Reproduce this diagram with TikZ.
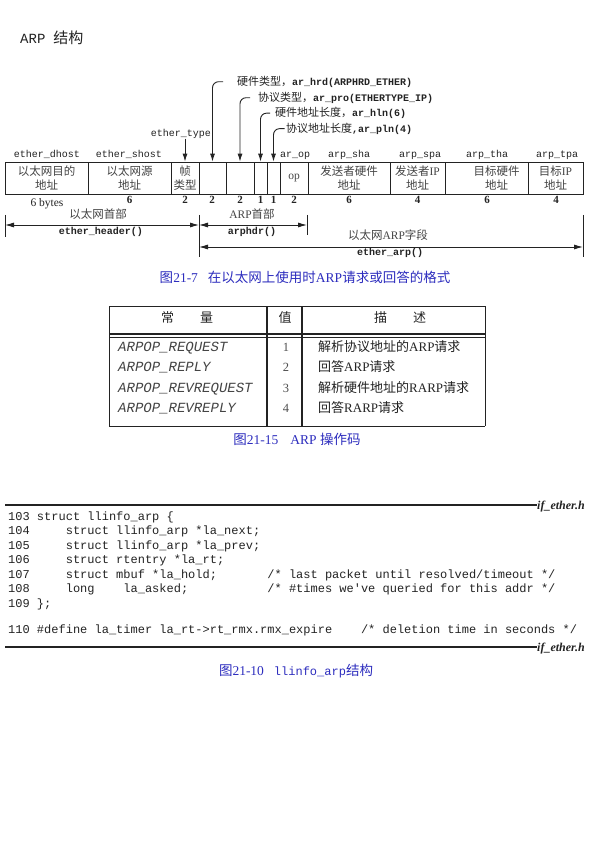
\documentclass[tikz,border=0pt]{standalone}
\usepackage{fontspec}
\setmainfont{Liberation Serif}
\setmonofont{Liberation Mono}
\newfontfamily\cjk{Noto Sans CJK SC}
\usetikzlibrary{arrows.meta}
\definecolor{capblue}{RGB}{45,45,190}
\definecolor{ink}{RGB}{35,35,35}
\newcommand\zh[1]{{\cjk\mdseries\upshape #1}}
\newcommand\mono[1]{{\ttfamily\fontsize{10}{12}\selectfont #1}}
\begin{document}
\begin{tikzpicture}[x=1pt,y=-1pt,
  every node/.style={inner sep=0pt, text=ink},
  cell/.style={draw=ink, line width=0.8pt, minimum height=32pt, inner sep=0pt, align=center,
    font=\cjk\fontsize{11.5}{14}\selectfont, text=ink!85},
  fld/.style={font=\ttfamily\fontsize{10}{12}\selectfont, anchor=mid},
  num/.style={font=\bfseries\fontsize{11}{12}\selectfont, anchor=mid},
  hooklbl/.style={font=\fontsize{11}{13}\selectfont, anchor=mid west},
  hook/.style={draw=ink, line width=0.9pt, rounded corners=6pt, -{Latex[length=8pt,width=5pt]}},
  dim/.style={draw=ink, line width=0.8pt, {Latex[length=9pt,width=5pt]}-{Latex[length=9pt,width=5pt]}},
  tick/.style={draw=ink, line width=0.8pt},
  dimlbl/.style={font=\cjk\fontsize{11.5}{13}\selectfont, anchor=mid, text=ink!85},
  fnlbl/.style={font=\ttfamily\bfseries\fontsize{10}{12}\selectfont, anchor=mid},
  caption/.style={font=\fontsize{13.5}{15}\selectfont, anchor=mid, text=capblue},
  tline/.style={draw=ink, line width=0.8pt},
  thead/.style={font=\cjk\fontsize{13}{15}\selectfont, anchor=mid},
  tname/.style={font=\ttfamily\itshape\fontsize{14}{16}\selectfont, anchor=mid west, text=ink!85},
  tval/.style={font=\fontsize{12.5}{14}\selectfont, anchor=mid, text=ink!80},
  tdesc/.style={font=\fontsize{13}{15}\selectfont, anchor=mid west},
  code/.style={font=\ttfamily\fontsize{12}{14}\selectfont, anchor=mid west},
  fname/.style={font=\bfseries\itshape\fontsize{12}{14}\selectfont, anchor=mid west},
  rule/.style={draw=ink, line width=1.1pt}
]
\useasboundingbox[fill=white] (0,0) rectangle (595,842);

% title
\node[anchor=mid west] (title) at (20,41) {{\ttfamily\fontsize{14}{16}\selectfont ARP}\hspace{8pt}{\cjk\fontsize{15}{17}\selectfont 结构}};

% ---------- frame row ----------
\node[cell, minimum width=83pt] (dhost) at (46.5,178) {以太网目的\\地址};
\node[cell, minimum width=83pt] (shost) at (129.5,178) {以太网源\\地址};
\node[cell, minimum width=28pt] (ftype) at (185,178) {帧\\类型};
\node[cell, minimum width=27pt] (hrd) at (212.5,178) {};
\node[cell, minimum width=28pt] (pro) at (240,178) {};
\node[cell, minimum width=13pt] (hln) at (260.5,178) {};
\node[cell, minimum width=13pt] (pln) at (273.5,178) {};
\node[cell, minimum width=28pt] (op) at (294,178) {\rmfamily op};
\node[cell, minimum width=82pt] (sha) at (349,178) {发送者硬件\\地址};
\node[cell, minimum width=55pt] (spa) at (417.5,178) {发送者{\rmfamily IP}\\地址};
\node[cell, minimum width=83pt] (tha) at (486.5,178) {\hspace*{20pt}目标硬件\\\hspace*{20pt}地址};
\node[cell, minimum width=55pt] (tpa) at (555.5,178) {目标{\rmfamily IP}\\地址};

% field labels
\node[fld] (ldh) at (47,155) {ether\_dhost};
\node[fld] (lsh) at (129,155) {ether\_shost};
\node[fld] (lty) at (181,134) {ether\_type};
\node[fld] (lop) at (295,155) {ar\_op};
\node[fld] (lsha) at (349,155) {arp\_sha};
\node[fld] (lspa) at (420,155) {arp\_spa};
\node[fld] (ltha) at (487,155) {arp\_tha};
\node[fld] (ltpa) at (557,155) {arp\_tpa};

% hook labels
\node[hooklbl] (h1) at (237,83) {\zh{硬件类型，}\mono{\bfseries ar\_hrd(ARPHRD\_ETHER)}};
\node[hooklbl] (h2) at (258,99) {\zh{协议类型，}\mono{\bfseries ar\_pro(ETHERTYPE\_IP)}};
\node[hooklbl] (h3) at (275,114.5) {\zh{硬件地址长度，}\mono{\bfseries ar\_hln(6)}};
\node[hooklbl] (h4) at (286,130) {\zh{协议地址长度}\mono{\bfseries ,ar\_pln(4)}};

\draw[hook] (lty.south -| ftype.north) -- (ftype.north);
\draw[hook] ([xshift=-14pt]h1.west) -- (h1.west -| hrd.north) -- (hrd.north);
\draw[hook] ([xshift=-8pt]h2.west) -- (h2.west -| pro.north) -- (pro.north);
\draw[hook] ([xshift=-5pt]h3.west) -- (h3.west -| hln.north) -- (hln.north);
\draw[hook] ([xshift=-1.5pt]h4.west) -- (h4.west -| pln.north) -- (pln.north);

% sizes
\node[anchor=mid, font=\fontsize{11.5}{13}\selectfont] (n1) at (47,204.5) {6 bytes};
\node[num] (n2) at (129.5,201) {6};
\node[num] (n3) at (185,201) {2};
\node[num] (n4) at (212,201) {2};
\node[num] (n5) at (240,201) {2};
\node[num] (n6) at (260.5,201) {1};
\node[num] (n7) at (273.5,201) {1};
\node[num] (n8) at (294,201) {2};
\node[num] (n9) at (349,201) {6};
\node[num] (n10) at (417.5,201) {4};
\node[num] (n11) at (487,201) {6};
\node[num] (n12) at (556,201) {4};

% dimension lines
\coordinate (t0a) at (5,215);   \coordinate (t0b) at (5,237);
\coordinate (t1a) at (199,215); \coordinate (t1b) at (199,257);
\coordinate (t2a) at (307,215); \coordinate (t2b) at (307,235);
\coordinate (t3a) at (583,215); \coordinate (t3b) at (583,257);
\draw[tick] (t0a) -- (t0b);
\draw[tick] (t1a) -- (t1b);
\draw[tick] (t2a) -- (t2b);
\draw[tick] (t3a) -- (t3b);
\coordinate (ehL) at (5,225);   \coordinate (ehR) at (199,225);
\coordinate (ahL) at (199,225); \coordinate (ahR) at (307,225);
\coordinate (eaL) at (199,247); \coordinate (eaR) at (583,247);
\draw[dim] (ehL) -- (ehR);
\draw[dim] (ahL) -- (ahR);
\draw[dim] (eaL) -- (eaR);

\node[dimlbl] (d1) at (98,216.5) {以太网首部};
\node[fnlbl] (d1f) at (101,232.5) {ether\_header()};
\node[dimlbl] (d2) at (252,216.5) {{\rmfamily ARP}首部};
\node[fnlbl] (d2f) at (252,232.5) {arphdr()};
\node[dimlbl] (d3) at (388,237) {以太网{\rmfamily ARP}字段};
\node[fnlbl] (d3f) at (390,253) {ether\_arp()};

\node[caption] (cap1) at (305,280) {\zh{图}21-7\hspace{10pt}\zh{在以太网上使用时}ARP\zh{请求或回答的格式}};

% ---------- table ----------
\coordinate (tl) at (109,306); \coordinate (tr) at (485,306);
\coordinate (bl) at (109,426); \coordinate (br) at (485,426);
\coordinate (m1l) at (109,334); \coordinate (m1r) at (485,334);
\coordinate (m2l) at (109,337.5); \coordinate (m2r) at (485,337.5);
\coordinate (v1a) at (267,306); \coordinate (v1b) at (267,426);
\coordinate (v2a) at (302,306); \coordinate (v2b) at (302,426);
\draw[tline] (tl) -- (tr);
\draw[tline] (bl) -- (br);
\draw[tline] (tl) -- (bl);
\draw[tline] (tr) -- (br);
\draw[tline, line width=1.3pt] (m1l) -- (m1r);
\draw[tline, line width=0.6pt] (m2l) -- (m2r);
\draw[tline, line width=1.2pt] (v1a) -- (v1b);
\draw[tline, line width=1.2pt] (v2a) -- (v2b);

\node[thead] (th1) at (187,320) {常\hspace{2em}量};
\node[thead] (th2) at (285,320) {值};
\node[thead] (th3) at (400,320) {描\hspace{2em}述};

\node[tname] (r1n) at (118,349) {ARPOP\_REQUEST};
\node[tname] (r2n) at (118,369.5) {ARPOP\_REPLY};
\node[tname] (r3n) at (118,390) {ARPOP\_REVREQUEST};
\node[tname] (r4n) at (118,410.5) {ARPOP\_REVREPLY};
\node[tval] (r1v) at (286,349) {1};
\node[tval] (r2v) at (286,369.5) {2};
\node[tval] (r3v) at (286,390) {3};
\node[tval] (r4v) at (286,410.5) {4};
\node[tdesc] (r1d) at (318,349) {\zh{解析协议地址的}ARP\zh{请求}};
\node[tdesc] (r2d) at (318,369.5) {\zh{回答}ARP\zh{请求}};
\node[tdesc] (r3d) at (318,390) {\zh{解析硬件地址的}RARP\zh{请求}};
\node[tdesc] (r4d) at (318,410.5) {\zh{回答}RARP\zh{请求}};

\node[caption] (cap2) at (297,442) {\zh{图}21-15\hspace{12pt}ARP \zh{操作码}};

% ---------- code ----------
\node[fname] (f1) at (537,507) {if\_ether.h};
\coordinate (r1s) at (5,505);
\draw[rule] (r1s) -- (r1s -| f1.west);

\node[code] (c103) at (8,518) {103~struct~llinfo\_arp~\{};
\node[code] (c104) at (8,532.5) {104~~~~~struct~llinfo\_arp~*la\_next;};
\node[code] (c105) at (8,547) {105~~~~~struct~llinfo\_arp~*la\_prev;};
\node[code] (c106) at (8,561.5) {106~~~~~struct~rtentry~*la\_rt;};
\node[code] (c107) at (8,576) {107~~~~~struct~mbuf~*la\_hold;~~~~~~~/*~last~packet~until~resolved/timeout~*/};
\node[code] (c108) at (8,590.5) {108~~~~~long~~~~la\_asked;~~~~~~~~~~~/*~\#times~we've~queried~for~this~addr~*/};
\node[code] (c109) at (8,605) {109~\};};
\node[code] (c110) at (8,631) {110~\#define~la\_timer~la\_rt->rt\_rmx.rmx\_expire~~~~/*~deletion~time~in~seconds~*/};

\node[fname] (f2) at (537,649) {if\_ether.h};
\coordinate (r2s) at (5,647);
\draw[rule] (r2s) -- (r2s -| f2.west);

\node[caption] (cap3) at (296,673) {\zh{图}21-10\hspace{10pt}{\ttfamily\fontsize{12}{14}\selectfont llinfo\_arp}\zh{结构}};
\end{tikzpicture}
\end{document}
